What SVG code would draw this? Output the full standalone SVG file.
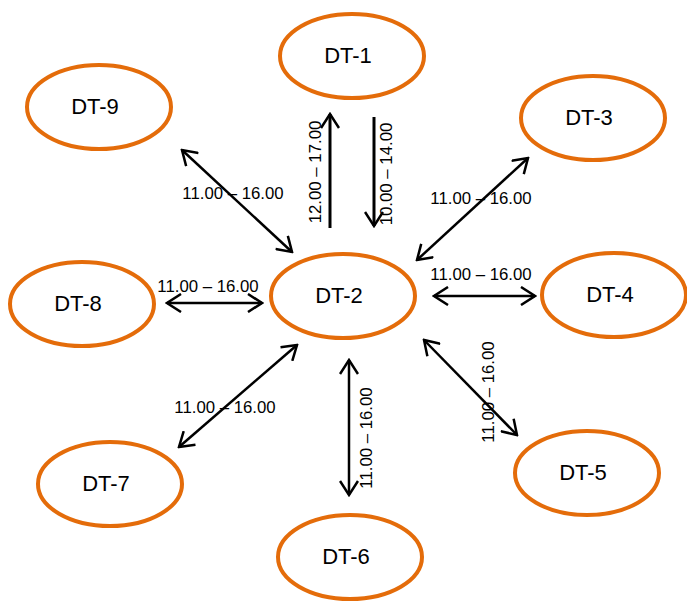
<svg xmlns="http://www.w3.org/2000/svg" width="687" height="602" viewBox="0 0 687 602">
<style>
.node ellipse{fill:#fff;stroke:#E46C0A;stroke-width:4}
.node text{font-family:"Liberation Sans",Arial,sans-serif;font-size:22px;fill:#000;text-anchor:middle}
.conn line{stroke:#000;stroke-width:2.5;fill:none}
.conn line.thick{stroke-width:3}
.lbl{font-family:"Liberation Sans",Arial,sans-serif;font-size:16.8px;fill:#000;text-anchor:middle}
</style>
<defs>
<marker id="ah" markerUnits="userSpaceOnUse" viewBox="-16 -10 18 20" refX="0" refY="0" markerWidth="18" markerHeight="20" orient="auto-start-reverse">
<path d="M-14,-9 L0,0 L-14,9" fill="none" stroke="#000" stroke-width="2.5"/>
</marker>
</defs>
<g id="connectors" class="conn">
<line class="thick" x1="330" y1="228" x2="330" y2="114" marker-end="url(#ah)"/>
<line class="thick" x1="374" y1="117" x2="374" y2="226" marker-end="url(#ah)"/>
<line x1="182" y1="150" x2="292" y2="252" marker-start="url(#ah)" marker-end="url(#ah)"/>
<line x1="167" y1="303" x2="262" y2="303" marker-start="url(#ah)" marker-end="url(#ah)"/>
<line x1="528" y1="158" x2="417" y2="260" marker-start="url(#ah)" marker-end="url(#ah)"/>
<line x1="434" y1="296" x2="535" y2="296" marker-start="url(#ah)" marker-end="url(#ah)"/>
<line x1="297" y1="345" x2="179" y2="447" marker-start="url(#ah)" marker-end="url(#ah)"/>
<line x1="349" y1="360" x2="349" y2="495" marker-start="url(#ah)" marker-end="url(#ah)"/>
<line x1="424" y1="340" x2="517" y2="435" marker-start="url(#ah)" marker-end="url(#ah)"/>
<text class="lbl" transform="translate(315,172) rotate(-90)" x="0" y="6">12.00 – 17.00</text>
<text class="lbl" transform="translate(386,174) rotate(-90)" x="0" y="6">10.00 – 14.00</text>
<text class="lbl" x="233" y="199">11.00 – 16.00</text>
<text class="lbl" x="208" y="292">11.00 – 16.00</text>
<text class="lbl" x="481" y="204">11.00 – 16.00</text>
<text class="lbl" x="481" y="280">11.00 – 16.00</text>
<text class="lbl" x="225" y="413">11.00 – 16.00</text>
<text class="lbl" transform="translate(366,438) rotate(-90)" x="0" y="6">11.00 – 16.00</text>
<text class="lbl" transform="translate(488,392) rotate(-90)" x="0" y="6">11.00 – 16.00</text>
</g>
<g id="DT-1" class="node"><ellipse cx="352" cy="56" rx="72" ry="42"/><text x="348" y="63">DT-1</text></g>
<g id="DT-9" class="node"><ellipse cx="99" cy="107" rx="72" ry="42"/><text x="95" y="114">DT-9</text></g>
<g id="DT-3" class="node"><ellipse cx="593" cy="118" rx="72" ry="42"/><text x="589" y="125">DT-3</text></g>
<g id="DT-2" class="node"><ellipse cx="343" cy="296" rx="72" ry="42"/><text x="339" y="303">DT-2</text></g>
<g id="DT-8" class="node"><ellipse cx="82" cy="304" rx="72" ry="42"/><text x="78" y="311">DT-8</text></g>
<g id="DT-4" class="node"><ellipse cx="614" cy="295" rx="72" ry="42"/><text x="610" y="302">DT-4</text></g>
<g id="DT-7" class="node"><ellipse cx="110" cy="484" rx="72" ry="42"/><text x="106" y="491">DT-7</text></g>
<g id="DT-5" class="node"><ellipse cx="587" cy="473" rx="72" ry="42"/><text x="583" y="480">DT-5</text></g>
<g id="DT-6" class="node"><ellipse cx="350" cy="557" rx="72" ry="42"/><text x="346" y="564">DT-6</text></g>
</svg>
